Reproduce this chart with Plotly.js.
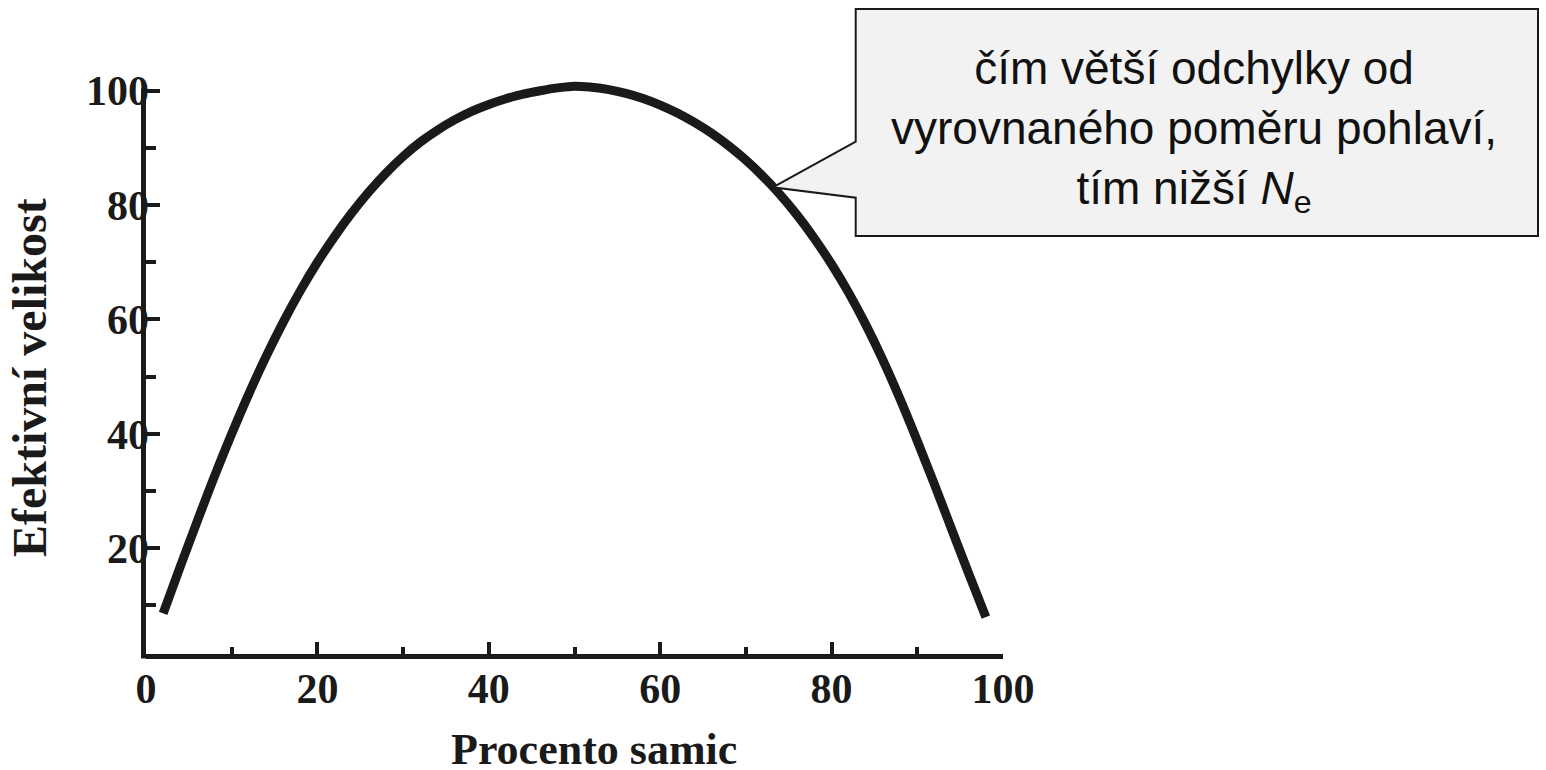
<!DOCTYPE html>
<html>
<head>
<meta charset="utf-8">
<script src="https://cdn.plot.ly/plotly-3.0.1.min.js"></script>
<style>html,body{margin:0;padding:0;background:#fff;}#chart{width:1546px;height:770px;}</style>
</head>
<body>
<div id="chart"></div>
<script>
// Data
const percentFemales = [2, 4, 6, 8, 10, 12, 14, 16, 18, 20, 22, 24, 26, 28, 30, 32, 34, 36, 38, 40, 42, 44, 46, 48, 50,
                        52, 54, 56, 58, 60, 62, 64, 66, 68, 70, 72, 74, 76, 78, 80, 82, 84, 86, 88, 90, 92, 94, 96, 98];
const effectiveSize = [8.6, 16.8, 24.8, 32.6, 40.0, 47.0, 53.5, 59.5, 65.0, 70.0, 74.5, 78.6, 82.3, 85.6, 88.5, 91.0, 93.1, 94.9, 96.4, 97.6, 98.6, 99.4, 100.0, 100.5, 100.8,
                       100.6, 100.2, 99.55, 98.65, 97.5, 96.1, 94.45, 92.55, 90.35, 87.85, 85.0, 81.8, 78.2, 74.15, 69.65, 64.65, 59.05, 52.85, 46.05, 38.75, 31.15, 23.35, 15.55, 7.95];
const xTicks = [0, 20, 40, 60, 80, 100];
const yTicks = [20, 40, 60, 80, 100];
const xTitle = 'Procento samic';
const yTitle = 'Efektivní velikost';
const calloutText = 'čím větší odchylky od<br>vyrovnaného poměru pohlaví,<br>tím nižší <i>N</i><sub>e</sub>';

// layout geometry (pixels)
const W = 1546, H = 770;
const M = {l: 146, r: 543, t: 77, b: 116};
const pw = W - M.l - M.r, ph = H - M.t - M.b;
const px = v => (v - M.l) / pw;
const py = v => (H - M.b - v) / ph;
const yRange = [1.5, 102.4];

const ink = '#1a1a1a';
const serif = 'Liberation Serif, Times New Roman, serif';

const callout = [
  [855.7, 9], [1538, 9], [1538, 236], [855.7, 236], [855.7, 197.7], [772.7, 187.3], [855.7, 141.7]
];
const calloutPath = 'M ' + callout.map(p => px(p[0]).toFixed(5) + ',' + py(p[1]).toFixed(5)).join(' L ') + ' Z';

const trace = {
  x: percentFemales,
  y: effectiveSize,
  type: 'scatter',
  mode: 'lines',
  line: {color: ink, width: 9, shape: 'spline', smoothing: 1},
  hoverinfo: 'skip'
};

const tickCommon = {
  showgrid: false, zeroline: false,
  ticks: 'inside', tickwidth: 4, tickcolor: ink,
  tickfont: {family: serif, size: 42, weight: 'bold', color: ink},
  fixedrange: true
};

const layout = {
  width: W, height: H,
  margin: M,
  paper_bgcolor: '#ffffff',
  plot_bgcolor: 'rgba(0,0,0,0)',
  showlegend: false,
  xaxis: Object.assign({}, tickCommon, {
    range: [0, 100],
    tickvals: xTicks,
    ticktext: xTicks.map(String),
    showline: true, linewidth: 5, linecolor: ink,
    ticklen: 12,
    minor: {dtick: 10, tick0: 0, ticks: 'inside', ticklen: 7, tickwidth: 4, tickcolor: ink, showgrid: false},
    ticklabelstandoff: -6
  }),
  yaxis: Object.assign({}, tickCommon, {
    range: yRange,
    tickvals: yTicks,
    ticktext: yTicks.map(String),
    showline: false,
    ticklen: 14,
    minor: {dtick: 10, tick0: 0, ticks: 'inside', ticklen: 10, tickwidth: 4, tickcolor: ink, showgrid: false},
    ticklabelstandoff: -4
  }),
  shapes: [
    { // left axis line, ending at the 100 tick
      type: 'line', xref: 'paper', yref: 'paper', layer: 'above',
      x0: px(143.5), x1: px(143.5), y0: py(658.5), y1: py(88.5),
      line: {color: ink, width: 5}
    },
    {
      type: 'path', xref: 'paper', yref: 'paper', layer: 'above',
      path: calloutPath,
      fillcolor: '#f2f2f2',
      line: {color: '#1a1a1a', width: 2}
    }
  ],
  annotations: [
    {
      xref: 'paper', yref: 'paper', x: px(594), y: py(749),
      xanchor: 'center', yanchor: 'middle', showarrow: false,
      text: xTitle,
      font: {family: serif, size: 44, weight: 'bold', color: ink}
    },
    {
      xref: 'paper', yref: 'paper', x: px(29), y: py(378),
      xanchor: 'center', yanchor: 'middle', showarrow: false, textangle: -90,
      text: yTitle,
      font: {family: serif, size: 48, weight: 'bold', color: ink}
    },
    {
      xref: 'paper', yref: 'paper', x: px(1194), y: py(131),
      xanchor: 'center', yanchor: 'middle', showarrow: false, align: 'center',
      text: calloutText,
      font: {family: 'Liberation Sans, Arial, sans-serif', size: 46, color: '#111111'}
    }
  ]
};

Plotly.newPlot('chart', [trace], layout, {staticPlot: true, displayModeBar: false});
</script>
</body>
</html>
